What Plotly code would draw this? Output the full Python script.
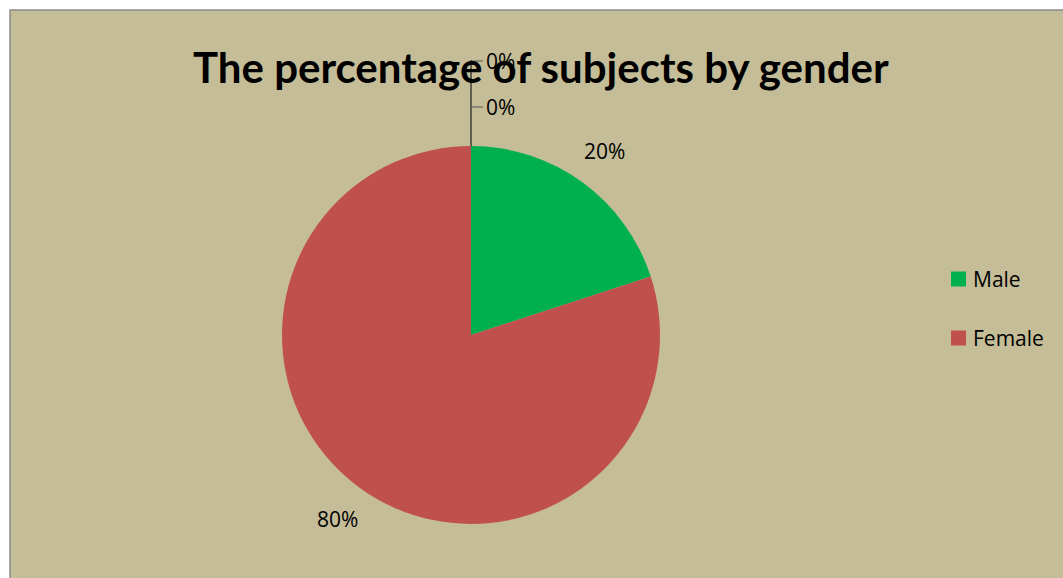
import math
import plotly.graph_objects as go

W, H = 1063, 578

# Data
categories = ["Male", "Female"]
values = [20, 80]
colors = ["#00B050", "#C0504D"]
zero_labels = ["0%", "0%"]  # two empty categories shown with leader lines
title_text = "The percentage of subjects by gender"

TITLE_FONT = "Lato"
FONT = "Open Sans"


def px(x):
    return x / W


def py(y):
    return 1 - y / H


# pie geometry in pixels
cx, cy, r = 471, 335, 189

fig = go.Figure()
fig.add_trace(go.Pie(
    labels=categories,
    values=values,
    marker=dict(colors=colors, line=dict(width=0)),
    sort=False,
    direction="clockwise",
    rotation=0,
    textinfo="none",
    hoverinfo="label+percent",
    showlegend=False,
    domain=dict(x=[px(cx - r), px(cx + r)], y=[py(cy + r), py(cy - r)]),
))

annotations = []
shapes = []

# chart area background with border
shapes.append(dict(type="rect", xref="paper", yref="paper",
                   x0=px(10), x1=px(W + 5), y0=py(H + 5), y1=py(10),
                   fillcolor="#C4BD97", line=dict(color="#8C8C8C", width=1.5),
                   layer="below"))

# percentage labels outside the slices
total = sum(values)
start = 0.0
for v in values:
    mid = start + v / total * 360 / 2
    start += v / total * 360
    a = math.radians(mid)
    d = r * 1.205
    lx = cx + d * math.sin(a)
    ly = cy - d * math.cos(a)
    annotations.append(dict(x=px(lx), y=py(ly), xref="paper", yref="paper",
                            text=f"{round(v / total * 100)}%", showarrow=False,
                            font=dict(family=FONT, size=21, color="#000000"),
                            xanchor="center", yanchor="middle"))

# leader lines for zero-valued categories
shapes.append(dict(type="line", xref="paper", yref="paper",
                   x0=px(cx), x1=px(cx), y0=py(cy - r), y1=py(60),
                   line=dict(color="#000000", width=1)))
for ty, lab in zip([61, 107], zero_labels):
    shapes.append(dict(type="line", xref="paper", yref="paper",
                       x0=px(cx), x1=px(cx + 12), y0=py(ty), y1=py(ty),
                       line=dict(color="#555555", width=1)))
    annotations.append(dict(x=px(cx + 13), y=py(ty), xref="paper", yref="paper",
                            text=lab, showarrow=False,
                            font=dict(family=FONT, size=21, color="#000000"),
                            xanchor="left", yanchor="middle"))

# legend
for i, (cat, col) in enumerate(zip(categories, colors)):
    yy = 279 + i * 59
    shapes.append(dict(type="rect", xref="paper", yref="paper",
                       x0=px(951), x1=px(966), y0=py(yy + 7.5), y1=py(yy - 7.5),
                       fillcolor=col, line=dict(width=0)))
    annotations.append(dict(x=px(971), y=py(yy), xref="paper", yref="paper",
                            text=cat, showarrow=False,
                            font=dict(family=FONT, size=21, color="#000000"),
                            xanchor="left", yanchor="middle"))

# title
annotations.append(dict(x=px(541), y=py(67), xref="paper", yref="paper",
                        text=f"<b>{title_text}</b>", showarrow=False,
                        font=dict(family=TITLE_FONT, size=42, color="#000000"),
                        xanchor="center", yanchor="middle"))

fig.update_layout(
    width=W, height=H,
    margin=dict(l=0, r=0, t=0, b=0),
    paper_bgcolor="#FFFFFF",
    plot_bgcolor="#FFFFFF",
    shapes=shapes,
    annotations=annotations,
)

fig.write_html("out.html")
